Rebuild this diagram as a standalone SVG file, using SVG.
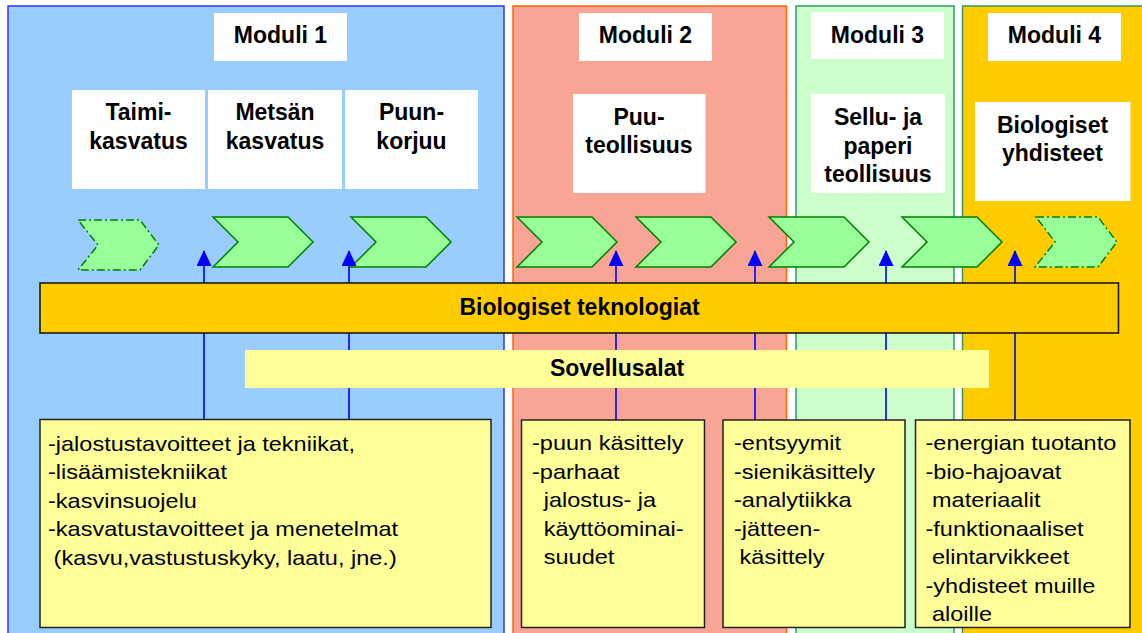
<svg xmlns="http://www.w3.org/2000/svg" width="1142" height="633" viewBox="0 0 1142 633">
<style>
.b{font-family:"Liberation Sans",Arial,sans-serif;font-weight:bold;font-size:23px;fill:#000;text-anchor:middle}
.r{font-family:"Liberation Sans",Arial,sans-serif;font-size:21px;fill:#000}
.wb{fill:#fff}
.chev{fill:#99ff99;stroke:#008000;stroke-width:1.5;stroke-linejoin:miter}
.chevd{fill:#99ff99;stroke:#008000;stroke-width:1.5;stroke-dasharray:8 3 2 3}
.note{fill:#ffff99;stroke:#222;stroke-width:1.5}
.conn{stroke:#0000ff;stroke-width:1.6;fill:none}
</style>
<defs>
<marker id="ah" viewBox="0 0 16 15" refX="15" refY="7.5" markerWidth="16" markerHeight="15" markerUnits="userSpaceOnUse" orient="auto">
<path d="M0,0 L16,7.5 L0,15 z" fill="#0000ff"/>
</marker>
</defs>
<rect x="0" y="0" width="1142" height="633" fill="#fff"/>
<g id="panels">
<rect id="panel1" x="8" y="6" width="496" height="640" fill="#99ccff" stroke="#3333ff" stroke-width="1.5"/>
<rect id="panel2" x="513" y="6" width="273.5" height="640" fill="#f8a596" stroke="#ff6600" stroke-width="1.5"/>
<rect id="panel3" x="796" y="6" width="158" height="640" fill="#ccffcc" stroke="#339966" stroke-width="1.5"/>
<rect id="panel4" x="962.5" y="6" width="190" height="640" fill="#ffcc00" stroke="#339966" stroke-width="1.5"/>
</g>
<g id="moduli1"><rect class="wb" x="214" y="13" width="133" height="48"/><text class="b" x="280.5" y="43">Moduli 1</text></g>
<g id="moduli2"><rect class="wb" x="579" y="13" width="133" height="48"/><text class="b" x="645.5" y="43">Moduli 2</text></g>
<g id="moduli3"><rect class="wb" x="811" y="12" width="133" height="47"/><text class="b" x="877.5" y="42.5">Moduli 3</text></g>
<g id="moduli4"><rect class="wb" x="988" y="13" width="133" height="48"/><text class="b" x="1054.5" y="43">Moduli 4</text></g>
<g id="taimikasvatus"><rect class="wb" x="72" y="90" width="133" height="99"/><text class="b" x="138.5" y="120">Taimi-</text><text class="b" x="138.5" y="149">kasvatus</text></g>
<g id="metsankasvatus"><rect class="wb" x="208" y="90" width="134" height="99"/><text class="b" x="275" y="120">Metsän</text><text class="b" x="275" y="149">kasvatus</text></g>
<g id="puunkorjuu"><rect class="wb" x="345" y="90" width="133" height="99"/><text class="b" x="411.5" y="120">Puun-</text><text class="b" x="411.5" y="149">korjuu</text></g>
<g id="puuteollisuus"><rect class="wb" x="573" y="94" width="132.5" height="99"/><text class="b" x="639" y="125">Puu-</text><text class="b" x="639" y="153">teollisuus</text></g>
<g id="selluteollisuus"><rect class="wb" x="811" y="94" width="134" height="99"/><text class="b" x="878" y="125">Sellu- ja</text><text class="b" x="878" y="153.5">paperi</text><text class="b" x="878" y="182">teollisuus</text></g>
<g id="biologisetyhdisteet"><rect class="wb" x="975" y="102" width="155.5" height="99"/><text class="b" x="1052.5" y="133">Biologiset</text><text class="b" x="1052.5" y="161">yhdisteet</text></g>
<g id="chevrons">
<polygon id="chev1" class="chevd" points="78,220 140,220 159,245 140,270 78,270 98,245"/>
<polygon id="chev2" class="chev" points="213,217 288,217 313,242 288,267 213,267 238,242"/>
<polygon id="chev3" class="chev" points="351,217 426,217 451,242 426,267 351,267 376,242"/>
<polygon id="chev4" class="chev" points="517,217 592,217 617,242 592,267 517,267 542,242"/>
<polygon id="chev5" class="chev" points="636,217 711,217 736,242 711,267 636,267 661,242"/>
<polygon id="chev6" class="chev" points="769,217 844,217 869,242 844,267 769,267 794,242"/>
<polygon id="chev7" class="chev" points="902,217 977,217 1002,242 977,267 902,267 927,242"/>
<polygon id="chev8" class="chevd" points="1036,217 1098,217 1117,242 1098,267 1035,267 1055,242"/>
</g>
<g id="connectors">
<line class="conn" x1="204" y1="419" x2="204" y2="251" marker-end="url(#ah)"/>
<line class="conn" x1="349" y1="419" x2="349" y2="251" marker-end="url(#ah)"/>
<line class="conn" x1="616" y1="420" x2="616" y2="251" marker-end="url(#ah)"/>
<line class="conn" x1="755" y1="420" x2="755" y2="251" marker-end="url(#ah)"/>
<line class="conn" x1="886" y1="420" x2="886" y2="251" marker-end="url(#ah)"/>
<line class="conn" x1="1015" y1="420" x2="1015" y2="251" marker-end="url(#ah)"/>
</g>
<g id="teknologiat"><rect x="40" y="283" width="1078.5" height="50" fill="#ffcc00" stroke="#111" stroke-width="1.5"/><text class="b" x="579.5" y="315">Biologiset teknologiat</text></g>
<g id="sovellusalat"><rect x="245" y="350" width="744" height="38" fill="#ffff99"/><text class="b" x="617" y="376">Sovellusalat</text></g>
<g id="box1"><rect class="note" x="40" y="419.5" width="451" height="208"/>
<g transform="translate(48 0) scale(1.12 1)">
<text class="r" x="0" y="451">-jalostustavoitteet ja tekniikat,</text>
<text class="r" x="0" y="479.5">-lisäämistekniikat</text>
<text class="r" x="0" y="508">-kasvinsuojelu</text>
<text class="r" x="0" y="536.5">-kasvatustavoitteet ja menetelmat</text>
<text class="r" x="5" y="565">(kasvu,vastustuskyky, laatu, jne.)</text>
</g></g>
<g id="box2"><rect class="note" x="521.5" y="420" width="183" height="207.5"/>
<g transform="translate(532 0) scale(1.12 1)">
<text class="r" x="0" y="450.5">-puun käsittely</text>
<text class="r" x="0" y="479">-parhaat</text>
<text class="r" x="10.5" y="507.5">jalostus- ja</text>
<text class="r" x="10.5" y="536">käyttöominai-</text>
<text class="r" x="10.5" y="564.5">suudet</text>
</g></g>
<g id="box3"><rect class="note" x="723" y="420" width="182" height="207.5"/>
<g transform="translate(734 0) scale(1.12 1)">
<text class="r" x="0" y="450.5">-entsyymit</text>
<text class="r" x="0" y="479">-sienikäsittely</text>
<text class="r" x="0" y="507.5">-analytiikka</text>
<text class="r" x="0" y="536">-jätteen-</text>
<text class="r" x="5" y="564.5">käsittely</text>
</g></g>
<g id="box4"><rect class="note" x="915.5" y="420" width="214.5" height="207.5"/>
<g transform="translate(925.5 0) scale(1.12 1)">
<text class="r" x="0" y="450.5">-energian tuotanto</text>
<text class="r" x="0" y="479">-bio-hajoavat</text>
<text class="r" x="5.8" y="507.5">materiaalit</text>
<text class="r" x="0" y="536">-funktionaaliset</text>
<text class="r" x="5.8" y="564.5">elintarvikkeet</text>
<text class="r" x="0" y="593">-yhdisteet muille</text>
<text class="r" x="5.8" y="621">aloille</text>
</g></g>
</svg>
